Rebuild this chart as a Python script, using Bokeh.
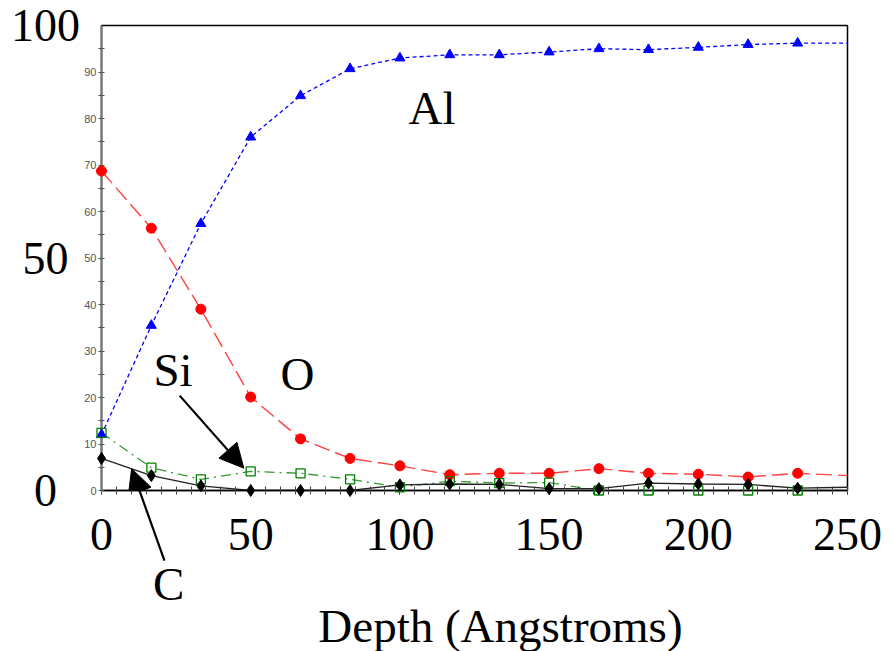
from bokeh.plotting import figure
from bokeh.models import Range1d, FixedTicker, Label, Arrow, NormalHead
from bokeh.core.properties import value
from bokeh.embed import file_html
from bokeh.resources import INLINE

# ---- data ----
depth = [0, 16.7, 33.3, 50, 66.7, 83.3, 100, 116.7, 133.3, 150, 166.7, 183.3, 200, 216.7, 233.3, 250]
al = [12.0, 35.5, 57.4, 76.0, 84.9, 90.7, 93.0, 93.7, 93.7, 94.3, 95.0, 94.8, 95.3, 95.9, 96.2, 96.2]
o = [68.7, 56.4, 39.0, 20.1, 11.1, 6.9, 5.3, 3.4, 3.7, 3.7, 4.7, 3.7, 3.5, 2.9, 3.7, 3.2]
si = [12.4, 4.9, 2.4, 4.1, 3.7, 2.4, 0.7, 2.0, 1.6, 1.7, 0.0, 0.0, 0.0, 0.0, 0.0, 0.0]
c = [6.9, 3.2, 1.0, 0.0, 0.0, 0.0, 1.2, 1.4, 1.3, 0.4, 0.4, 1.6, 1.4, 1.3, 0.5, 0.7]
n_markers = 15

x_big_ticks = [0, 50, 100, 150, 200, 250]
x_minor_ticks = list(range(0, 251, 5))
y_big_ticks = [0, 50, 100]
y_big_labels = ["0", "50", "100"]
y_small_ticks = [0, 10, 20, 30, 40, 50, 60, 70, 80, 90]
y_minor_ticks = list(range(5, 100, 10))
x_title = "Depth (Angstroms)"

SERIF = "Liberation Serif"
SANS = "Liberation Sans"

p = figure(width=894, height=651, output_backend="svg", toolbar_location=None,
           x_range=Range1d(0, 250), y_range=Range1d(0, 100),
           min_border_left=101, min_border_right=47, min_border_top=25, min_border_bottom=161)
p.grid.visible = False
p.outline_line_color = "black"
p.outline_line_width = 1.5
p.background_fill_color = "white"
p.border_fill_color = "white"

# inner (small) y axis
ya = p.yaxis[0]
ya.ticker = FixedTicker(ticks=y_small_ticks, minor_ticks=y_minor_ticks)
ya.axis_line_color = "#777777"
ya.axis_line_width = 2
ya.major_tick_line_color = "#555555"
ya.minor_tick_line_color = "#555555"
ya.major_tick_in = 3
ya.major_tick_out = 3
ya.minor_tick_in = 3
ya.minor_tick_out = 3
ya.major_label_text_font = SANS
ya.major_label_text_font_size = "11px"
ya.major_label_text_color = "#555555"
ya.major_label_standoff = 2

# x axis: small ticks, big labels
xa = p.xaxis[0]
xa.ticker = FixedTicker(ticks=x_big_ticks, minor_ticks=x_minor_ticks)
xa.axis_line_color = "black"
xa.axis_line_width = 1.5
xa.major_tick_in = 4
xa.major_tick_out = 4
xa.minor_tick_in = 4
xa.minor_tick_out = 4
xa.major_tick_line_color = "black"
xa.minor_tick_line_color = "#444444"
xa.major_label_text_font = SERIF
xa.major_label_text_font_size = "46px"
xa.major_label_text_color = "black"
xa.major_label_standoff = 24

# big y labels (drawn outside the frame, centred)
t1 = p.text(x=[-18.8] * len(y_big_ticks), y=y_big_ticks, text=y_big_labels,
            text_font=value(SERIF), text_font_size="46px", text_color="black",
            text_align="center", text_baseline="middle")
t1.level = "overlay"

# x axis title
t2 = p.text(x=[133.7], y=[-29.2], text=[x_title], text_font=value(SERIF),
            text_font_size="47px", text_color="black",
            text_align="center", text_baseline="middle")
t2.level = "overlay"

# series lines
p.line(depth, al, line_color="#0000ff", line_width=1.3, line_dash="4 3")
p.line(depth, o, line_color="#ff2020", line_alpha=0.85, line_width=1.4, line_dash="16 6")
p.line(depth, si, line_color="#339933", line_width=1.3, line_dash="10 5 2 5")
p.line(depth, c, line_color="#222222", line_width=1.3)

# markers
m = []
m.append(p.scatter(depth[:n_markers], al[:n_markers], marker="triangle", size=10,
                   fill_color="#0000ff", line_color="#0000ff"))
m.append(p.scatter(depth[:n_markers], o[:n_markers], marker="circle", size=10,
                   fill_color="#ff0000", line_color="#ff0000"))
m.append(p.scatter(depth[:n_markers], si[:n_markers], marker="square", size=9,
                   fill_color=None, line_color="#008000", line_width=1.3))
m.append(p.scatter(depth[:n_markers], c[:n_markers], marker="diamond", size=12,
                   fill_color="black", line_color="black"))
for r in m:
    r.level = "overlay"

# element labels inside the frame
def lab(x, y, t):
    lb = Label(x=x, y=y, text=t, text_font=SERIF, text_font_size="47px",
               text_color="black", text_align="left", text_baseline="alphabetic")
    p.add_layout(lb)

lab(102.9, 82.2, "Al")
lab(17.4, 25.9, "Si")
lab(60.0, 25.0, "O")

# "C" label sits below the frame
t3 = p.text(x=[22.5], y=[-20.2], text=["C"], text_font=value(SERIF),
            text_font_size="47px", text_color="black",
            text_align="center", text_baseline="middle")
t3.level = "overlay"

# arrows
a1 = Arrow(x_start=26.2, y_start=20.4, x_end=47.7, y_end=4.8, line_width=2.2,
           line_color="black",
           end=NormalHead(size=24, fill_color="black", line_color="black"))
a2 = Arrow(x_start=21.1, y_start=-15.1, x_end=10.1, y_end=4.7, line_width=2.2,
           line_color="black",
           end=NormalHead(size=24, fill_color="black", line_color="black"))
for a in (a1, a2):
    p.add_layout(a)
shaft = p.segment(x0=[21.1], y0=[-15.1], x1=[12.0], y1=[1.3], line_color="black", line_width=2.2)
shaft.level = "overlay"

open("out.html", "w").write(file_html(p, INLINE))
